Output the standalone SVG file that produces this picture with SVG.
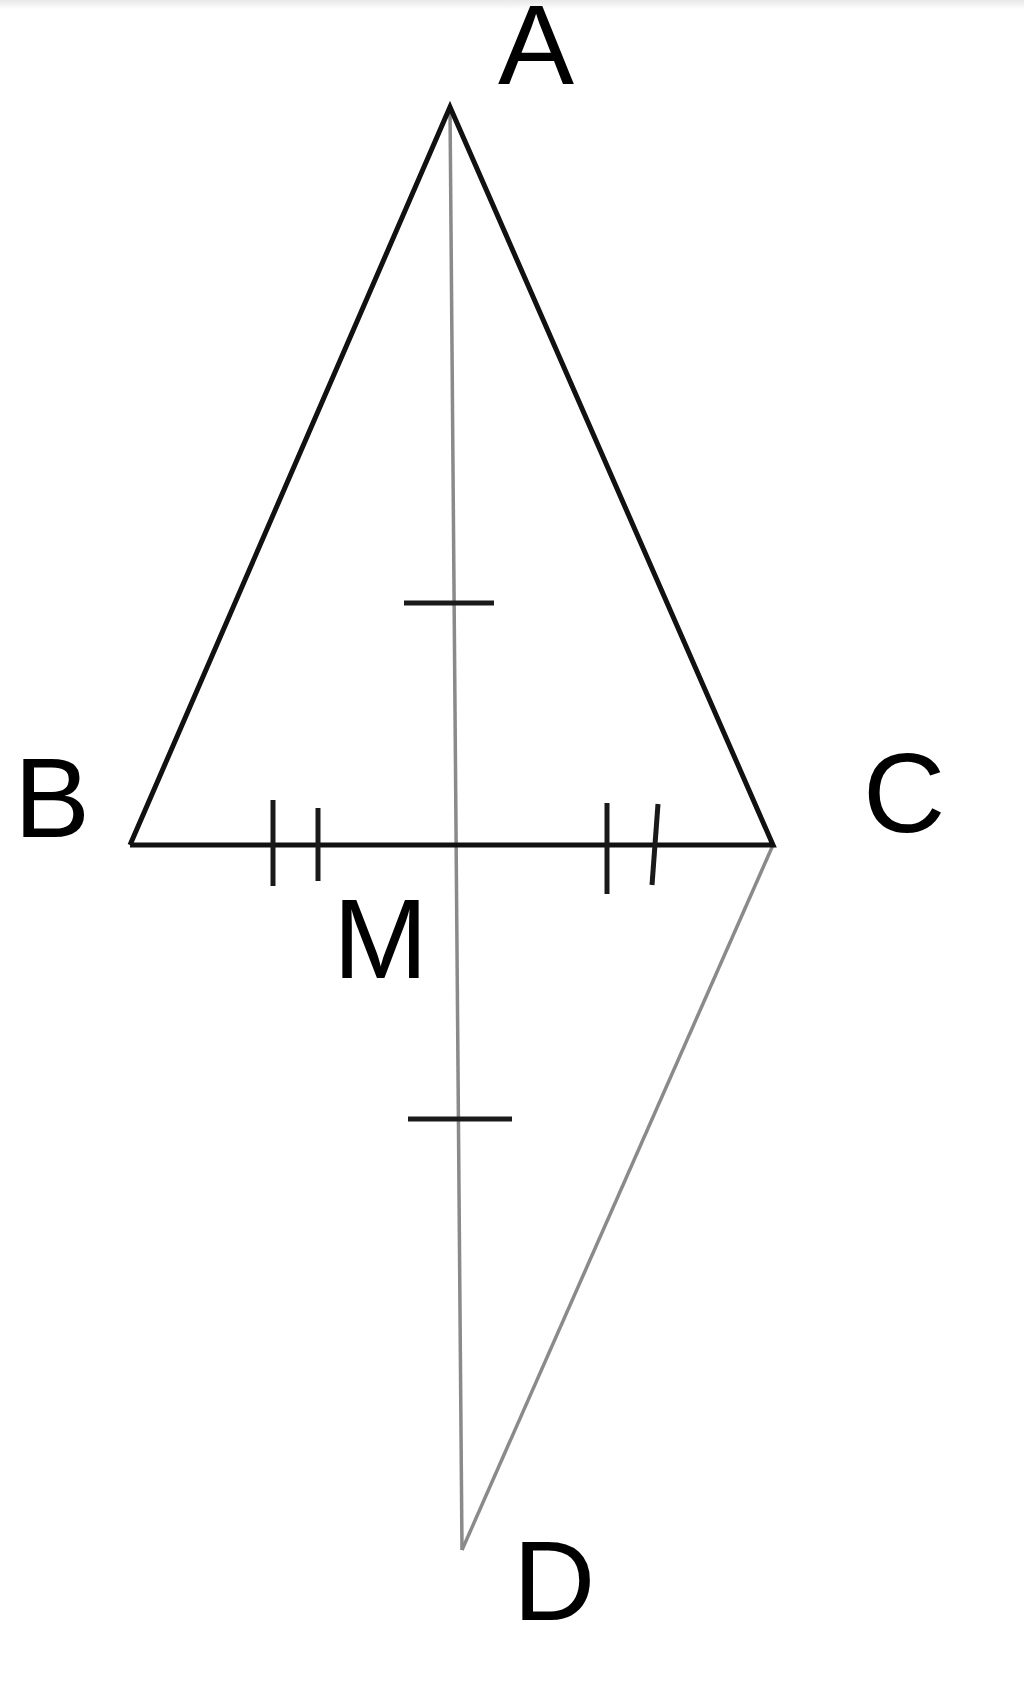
<svg xmlns="http://www.w3.org/2000/svg" width="1024" height="1685" viewBox="0 0 1024 1685">
<defs>
<linearGradient id="topfade" x1="0" y1="0" x2="0" y2="1">
<stop offset="0" stop-color="#e8e8e8"/>
<stop offset="1" stop-color="#ffffff"/>
</linearGradient>
</defs>
<style>
.lbl{font-family:"Liberation Sans",Arial,sans-serif;font-size:114px;fill:#000}
.side{stroke:#111;stroke-width:5;fill:none;stroke-linejoin:miter;stroke-linecap:butt}
.aux{stroke:#8a8a8a;stroke-width:3.5;fill:none}
.tick{stroke:#1a1a1a;stroke-width:5;fill:none}
</style>
<rect x="0" y="0" width="1024" height="1685" fill="#ffffff"/>
<rect x="0" y="0" width="1024" height="10" fill="url(#topfade)"/>
<g id="connectors">
<line class="aux" x1="450" y1="107" x2="462" y2="1550"/>
<polyline class="aux" points="773,845 462,1550"/>
<polyline class="side" points="130,845 450,107 773,845 130,845"/>
<line class="tick" x1="273" y1="800" x2="273" y2="886"/>
<line class="tick" x1="318" y1="808" x2="318" y2="881"/>
<line class="tick" x1="607" y1="803" x2="607" y2="894"/>
<line class="tick" x1="658" y1="804" x2="652" y2="885"/>
<line class="tick" x1="404" y1="603" x2="494" y2="603"/>
<line class="tick" x1="408" y1="1119" x2="512" y2="1119"/>
</g>
<g id="A"><text class="lbl" x="498" y="84" font-size="106">A</text></g>
<g id="B"><text class="lbl" x="14" y="837">B</text></g>
<g id="C"><text class="lbl" x="863" y="832">C</text></g>
<g id="M"><text class="lbl" x="333" y="978">M</text></g>
<g id="D"><text class="lbl" x="513" y="1620">D</text></g>
</svg>
